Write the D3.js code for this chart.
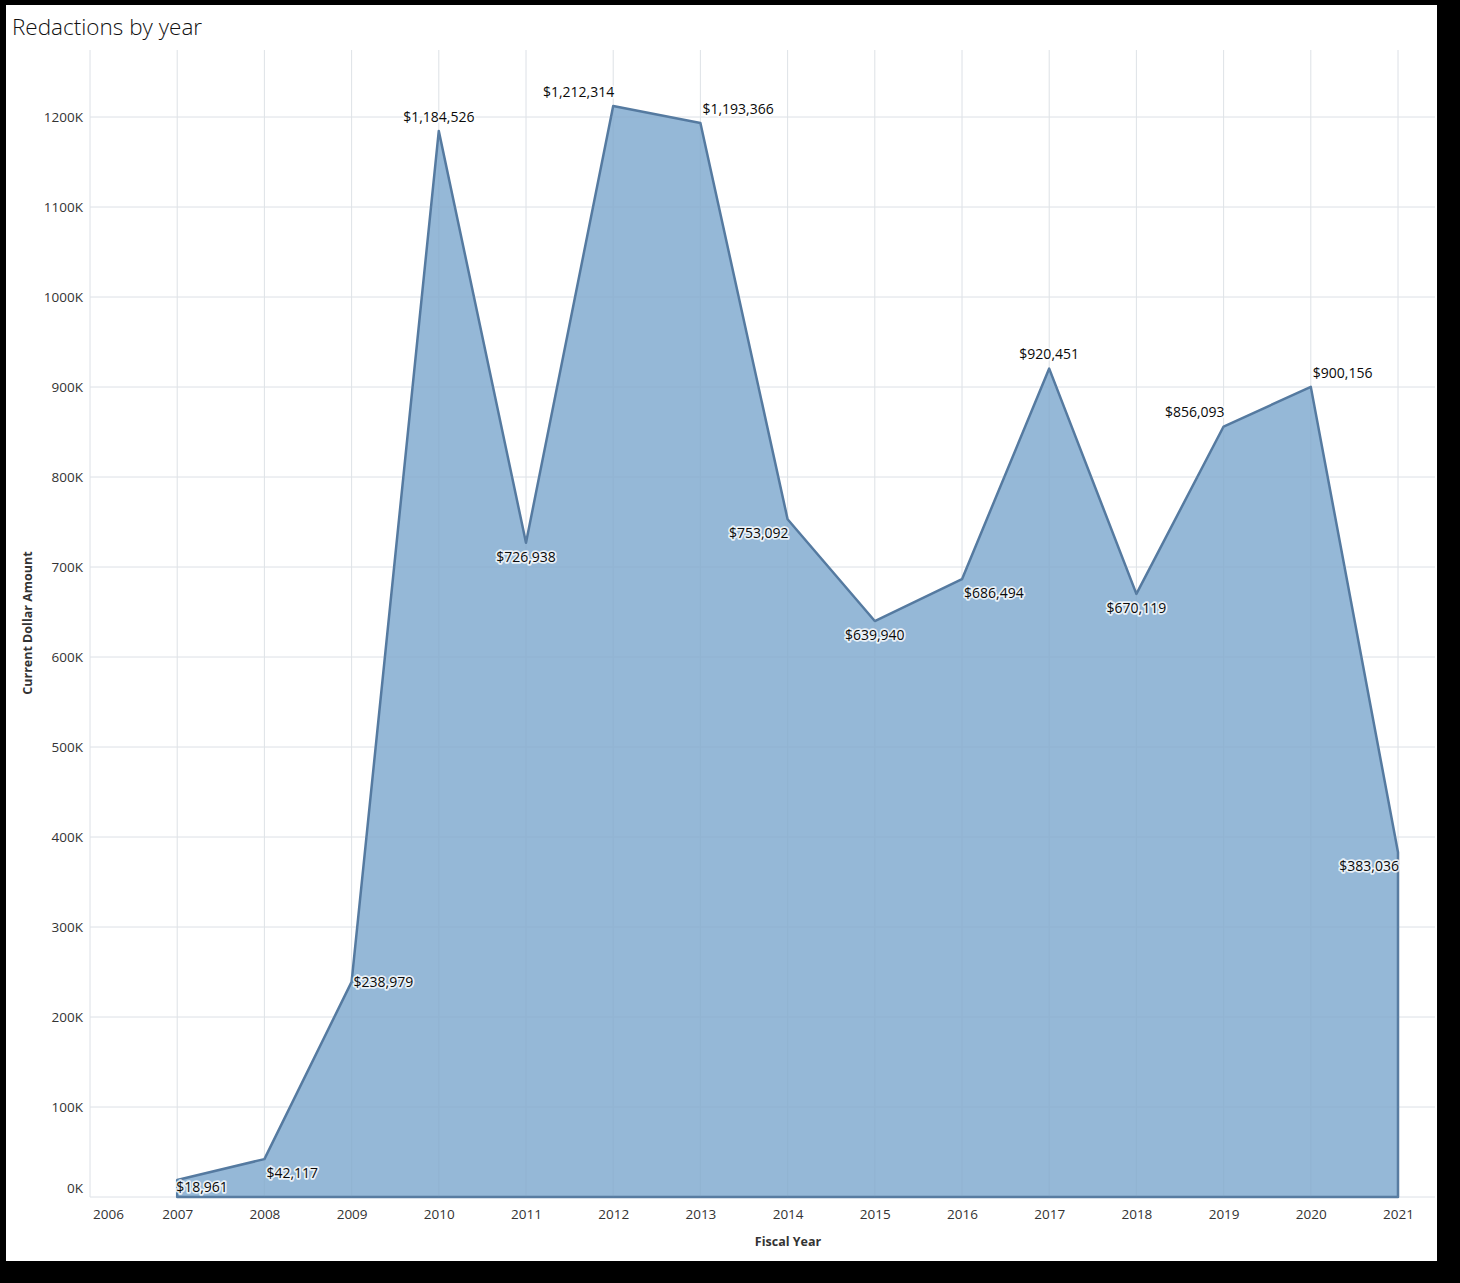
<!DOCTYPE html>
<html><head><meta charset="utf-8">
<script src="https://cdn.jsdelivr.net/npm/d3@7"></script>
<style>
html,body{margin:0;padding:0;background:#000;}
svg{display:block;}
</style></head>
<body>
<script>
const years = [2007,2008,2009,2010,2011,2012,2013,2014,2015,2016,2017,2018,2019,2020,2021];
const amounts = [18961,42117,238979,1184526,726938,1212314,1193366,753092,639940,686494,920451,670119,856093,900156,383036];
const axisYears = [2006,2007,2008,2009,2010,2011,2012,2013,2014,2015,2016,2017,2018,2019,2020,2021];
const yTicks = [0,100000,200000,300000,400000,500000,600000,700000,800000,900000,1000000,1100000,1200000];
// label placement: anchor and vertical side per point
const labelAnchor = ["start","start","start","middle","middle","end","start","end","middle","start","middle","middle","end","start","end"];
const labelSide =   ["below","below","mid","above","below","above","above","below","below","below","above","below","above","above","below"];

(function(){
const W=1460,H=1283;
const svg=d3.select("body").append("svg").attr("width",W).attr("height",H);
svg.append("rect").attr("width",W).attr("height",H).attr("fill","#000");
svg.append("rect").attr("x",6).attr("y",5).attr("width",1431).attr("height",1256).attr("fill","#fff");

svg.append("text").attr("x",12).attr("y",35).attr("font-family","Open Sans, sans-serif")
  .attr("font-size",22.5).attr("font-weight",300).attr("fill","#111").text("Redactions by year");

const pLeft=90,pRight=1435,pTop=50,pBottom=1197;
const x=d3.scaleLinear().domain([2006,2021]).range([pLeft,1398]);
const y=d3.scaleLinear().domain([0,1200000]).range([pBottom,117]);

const grid=svg.append("g");
axisYears.forEach(v=>grid.append("line").attr("x1",x(v)).attr("x2",x(v)).attr("y1",pTop).attr("y2",pBottom).attr("stroke","#f0f0f0").attr("stroke-width",1));
yTicks.forEach(v=>grid.append("line").attr("x1",pLeft).attr("x2",pRight).attr("y1",y(v)).attr("y2",y(v)).attr("stroke","#f0f0f0").attr("stroke-width",1));

const data=years.map((yr,i)=>({yr,v:amounts[i]}));
const area=d3.area().x(d=>x(d.yr)).y0(y(0)).y1(d=>y(d.v));
svg.append("path").datum(data).attr("d",area).attr("fill","#95b8d7").attr("stroke","#557aa0").attr("stroke-width",2.5).attr("stroke-linejoin","round");

// faint gridlines over area
const grid2=svg.append("g").attr("opacity",0.15);
axisYears.forEach(v=>grid2.append("line").attr("x1",x(v)).attr("x2",x(v)).attr("y1",pTop).attr("y2",pBottom).attr("stroke","#7f9cb8"));
yTicks.forEach(v=>grid2.append("line").attr("x1",pLeft).attr("x2",pRight).attr("y1",y(v)).attr("y2",y(v)).attr("stroke","#7f9cb8"));

// axes
const xa=svg.append("g").attr("transform",`translate(0,${pBottom})`)
  .call(d3.axisBottom(x).tickValues(axisYears).tickFormat(d3.format("d")).tickSize(0).tickPadding(12));
xa.select(".domain").remove();
xa.selectAll("text").attr("font-family","Open Sans, sans-serif").attr("font-size",13.5).attr("fill","#333")
  .attr("dx",(d,i)=>i===0?18:0);

const ya=svg.append("g").attr("transform",`translate(${pLeft},0)`)
  .call(d3.axisLeft(y).tickValues(yTicks).tickFormat(d=>(d/1000)+"K").tickSize(0).tickPadding(7));
ya.select(".domain").remove();
ya.selectAll("text").attr("font-family","Open Sans, sans-serif").attr("font-size",13.5).attr("fill","#333")
  .attr("dy",(d)=>d===0?"-0.3em":"0.32em");

svg.append("text").attr("x",788).attr("y",1246).attr("text-anchor","middle").attr("font-family","Open Sans, sans-serif")
  .attr("font-size",12.5).attr("font-weight",700).attr("fill","#333").text("Fiscal Year");
svg.append("text").attr("transform","translate(32,623) rotate(-90)").attr("text-anchor","middle").attr("font-family","Open Sans, sans-serif")
  .attr("font-size",12.5).attr("font-weight",700).attr("fill","#333").text("Current Dollar Amount");

// labels
const fmt=d3.format("$,");
const lg=svg.append("g").attr("font-family","Open Sans, sans-serif").attr("font-size",14);
data.forEach((d,i)=>{
  const side=labelSide[i];
  const dy= side==="above"?-14: side==="below"?14:0;
  let dx= labelAnchor[i]==="start"?2: labelAnchor[i]==="end"?1:0;
  if(i===0) dx=-1;
  const yy = i===0 ? y(0)-10 : y(d.v)+dy;
  lg.append("text").attr("x",x(d.yr)+dx).attr("y",yy).attr("dy","0.35em")
    .attr("text-anchor",labelAnchor[i]).attr("fill","#0a0a0a")
    .attr("stroke","#fff").attr("stroke-width",3.5).attr("stroke-opacity",0.8).attr("stroke-linejoin","round")
    .attr("paint-order","stroke").text(fmt(d.v));
});
})();
</script>
</body></html>
